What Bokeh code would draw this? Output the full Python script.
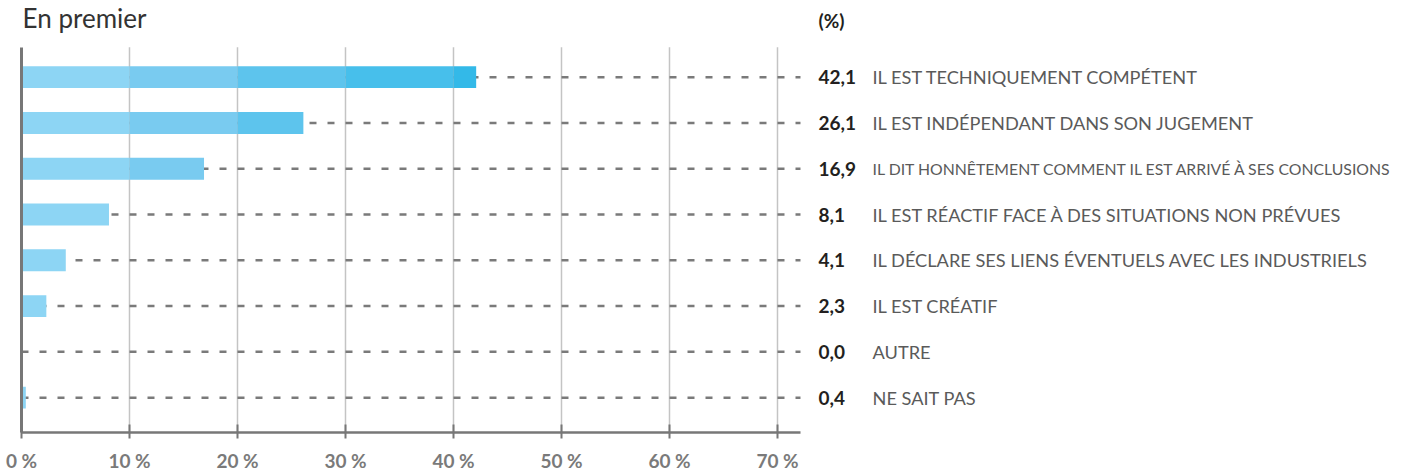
from bokeh.plotting import figure
from bokeh.models import FixedTicker, Range1d
from bokeh.core.properties import value
from bokeh.embed import file_html
from bokeh.resources import INLINE

# ---- data ----
title_text = "En premier"
unit_text = "(%)"
categories = [
    "IL EST TECHNIQUEMENT COMPÉTENT",
    "IL EST INDÉPENDANT DANS SON JUGEMENT",
    "IL DIT HONNÊTEMENT COMMENT IL EST ARRIVÉ À SES CONCLUSIONS",
    "IL EST RÉACTIF FACE À DES SITUATIONS NON PRÉVUES",
    "IL DÉCLARE SES LIENS ÉVENTUELS AVEC LES INDUSTRIELS",
    "IL EST CRÉATIF",
    "AUTRE",
    "NE SAIT PAS",
]
values = [42.1, 26.1, 16.9, 8.1, 4.1, 2.3, 0.0, 0.4]
tick_values = [0, 10, 20, 30, 40, 50, 60, 70]
tick_labels = ["0 %", "10 %", "20 %", "30 %", "40 %", "50 %", "60 %", "70 %"]

# ---- styles ----
shades = ["#8dd5f4", "#79cbf0", "#5dc4ed", "#47bfeb", "#33b9e8", "#33b9e8", "#33b9e8", "#33b9e8"]
label_sizes = ["18.2px", "18.2px", "15.8px", "18.2px", "18.2px", "18.2px", "18.2px", "18.2px"]
FONT = "Lato"

n = len(categories)
ys = [n - 1 - i for i in range(n)]
AXIS_END = 72.13            # end of the value axis (data units)
Y_LO, Y_HI = -0.761, 7.652  # extent of the plotting area proper
Y_TOP = 8.674

p = figure(width=1405, height=474, output_backend="svg", toolbar_location=None,
           x_range=Range1d(0, 128.15), y_range=Range1d(Y_LO, Y_TOP),
           min_border_left=21, min_border_right=0, min_border_top=0, min_border_bottom=40)
p.outline_line_color = None
p.background_fill_color = "white"
p.border_fill_color = "white"
p.xgrid.grid_line_color = None
p.ygrid.grid_line_color = None

# vertical gridlines at the tick values
grid_ticks = tick_values[1:]
p.segment(x0=grid_ticks, x1=grid_ticks, y0=[Y_LO] * len(grid_ticks), y1=[Y_HI] * len(grid_ticks),
          line_color="#c4c4c4", line_width=1.5)

# dashed guide lines
p.segment(x0=[0] * n, x1=[AXIS_END] * n, y0=ys, y1=ys, line_color="#7a7a7a",
          line_width=2.5, line_dash="7 11")

# bars split in 10% bands with increasingly saturated blue
for d in range(8):
    lo = d * 10
    seg_y, seg_l, seg_r = [], [], []
    for y, v in zip(ys, values):
        if v > lo:
            seg_y.append(y)
            seg_l.append(lo)
            seg_r.append(min(v, lo + 10))
    if seg_y:
        p.hbar(y=seg_y, left=seg_l, right=seg_r, height=0.478,
               fill_color=shades[d], line_color=None)

# axes
p.xaxis.bounds = (0, AXIS_END)
p.xaxis.ticker = FixedTicker(ticks=tick_values)
p.xaxis.major_label_overrides = {t: l for t, l in zip(tick_values, tick_labels)}
p.xaxis.axis_line_color = "#777777"
p.xaxis.axis_line_width = 2.5
p.xaxis.major_tick_line_color = "#777777"
p.xaxis.major_tick_line_width = 2
p.xaxis.major_tick_in = 8
p.xaxis.major_tick_out = 6
p.xaxis.minor_tick_line_color = None
p.xaxis.major_label_text_font = FONT
p.xaxis.major_label_text_font_style = "bold"
p.xaxis.major_label_text_font_size = "19px"
p.xaxis.major_label_text_color = "#7a7a7a"
p.xaxis.major_label_standoff = 10

p.yaxis.bounds = (Y_LO, Y_HI)
p.yaxis.ticker = FixedTicker(ticks=[])
p.yaxis.axis_line_color = "#777777"
p.yaxis.axis_line_width = 3
p.yaxis.major_tick_line_color = None
p.yaxis.minor_tick_line_color = None
p.yaxis.major_label_text_font_size = "0px"

# right-hand labels
vals = [f"{v:.1f}".replace(".", ",") for v in values]
p.text(x=[73.8] * n, y=ys, text=vals, text_font=value(FONT), text_font_style="bold",
       text_font_size="19px", text_color="#231f20", text_baseline="middle", text_align="left")
p.text(x=[78.8] * n, y=ys, text=categories, text_font=value(FONT),
       text_font_size=label_sizes, text_color="#5a5a5a", text_baseline="middle", text_align="left")

p.text(x=[73.8], y=[8.239], text=[unit_text], text_font=value(FONT), text_font_style="bold",
       text_font_size="19px", text_color="#231f20", text_baseline="middle")
p.text(x=[0.1], y=[Y_TOP - 0.03], text=[title_text], text_font=value(FONT),
       text_font_size="26px", text_color="#333333", text_baseline="top")

open("out.html", "w").write(file_html(p, INLINE))
